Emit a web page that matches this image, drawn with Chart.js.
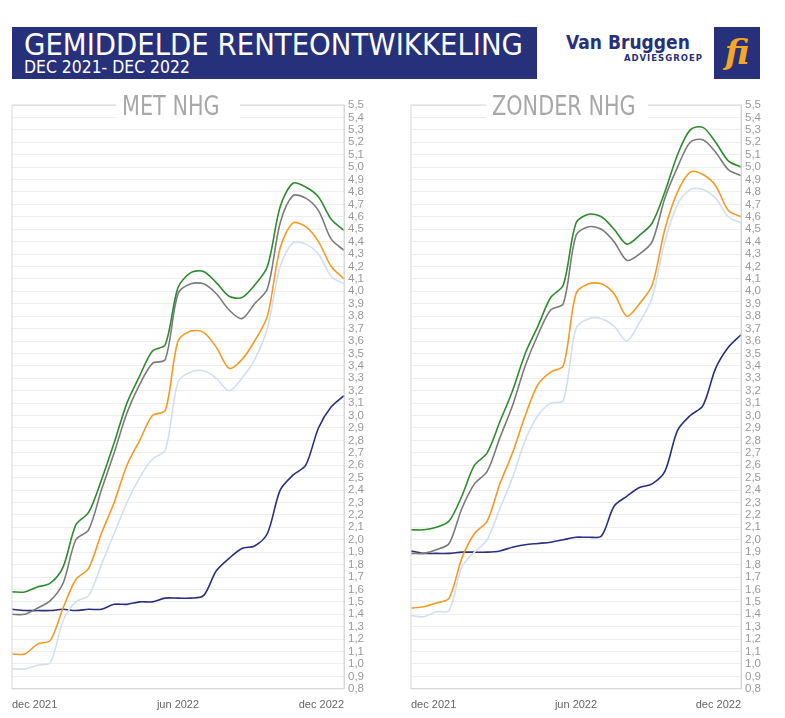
<!DOCTYPE html>
<html>
<head>
<meta charset="utf-8">
<script src="https://cdn.jsdelivr.net/npm/chart.js@4"></script>
<style>
  body { margin: 0; width: 785px; height: 718px; background: #fff; position: relative; overflow: hidden; font-family: "Open Sans", sans-serif; }
  .band { position: absolute; left: 12px; top: 27px; width: 525px; height: 52px; background: #27307a; color: #fff; font-family: "DejaVu Sans", sans-serif; overflow: hidden; }
  .band div { position: absolute; left: 12px; transform-origin: left top; white-space: nowrap; }
  .band .t1 { top: 0px; font-size: 30px; transform: scaleX(0.92); }
  .band .t2 { top: 30px; font-size: 17px; transform: scaleX(0.92); }
  .logo { position: absolute; left: 566px; top: 31px; color: #27307a; font-family: "DejaVu Sans", sans-serif; font-weight: bold; width: 140px; }
  .logo .a { font-size: 19px; transform: scaleX(0.9); transform-origin: left top; white-space: nowrap; }
  .logo .b { font-size: 8.5px; letter-spacing: 1px; text-align: right; margin-top: 0px; padding-right: 3px; }
  .sq { position: absolute; left: 714px; top: 27px; width: 46px; height: 52px; background: #27307a; color: #f5a623; font: italic bold 34px "DejaVu Serif", serif; text-align: center; line-height: 50px; }
  .wrap { position: absolute; top: 92px; width: 380px; height: 624px; }
  .ttl { position: absolute; top: 0; background: #fff; color: #a8a8a8; font-family: "DejaVu Sans", sans-serif; font-size: 26px; padding: 0 6px; line-height: 28px; white-space: nowrap; }
  .ttl span { display: inline-block; transform: scaleX(0.8); transform-origin: left top; }
</style>
</head>
<body>
<div class="band"><div class="t1">GEMIDDELDE RENTEONTWIKKELING</div><div class="t2">DEC 2021- DEC 2022</div></div>
<div class="logo"><div class="a">Van Bruggen</div><div class="b">ADVIESGROEP</div></div>
<div class="sq">fi</div>

<div class="wrap" style="left:0px"><canvas id="c1" width="380" height="622"></canvas><div class="ttl" style="left:116px;width:112px"><span>MET NHG</span></div></div>
<div class="wrap" style="left:397px"><canvas id="c2" width="380" height="622"></canvas><div class="ttl" style="left:89px;width:150px"><span>ZONDER NHG</span></div></div>

<script>
// 27 points, roughly every two weeks dec 2021 - dec 2022
const labels = ['dec 2021','','','','','','','','','','','','','jun 2022','','','','','','','','','','','','','dec 2022'];

// met NHG
const metGreen = [1.58,1.58,1.62,1.65,1.78,2.12,2.22,2.48,2.78,3.1,3.32,3.52,3.57,4.03,4.15,4.16,4.07,3.96,3.95,4.05,4.2,4.68,4.87,4.84,4.76,4.58,4.49];
const metGray = [1.4,1.4,1.45,1.51,1.65,2.0,2.08,2.4,2.7,3.02,3.25,3.42,3.45,3.98,4.06,4.06,3.98,3.85,3.78,3.9,4.02,4.55,4.77,4.75,4.65,4.42,4.33];
const metOrange = [1.08,1.08,1.16,1.19,1.45,1.68,1.77,2.05,2.3,2.6,2.8,3.0,3.04,3.6,3.68,3.67,3.55,3.38,3.45,3.6,3.8,4.35,4.55,4.52,4.4,4.2,4.1];
const metLight = [0.96,0.96,0.99,1.01,1.35,1.5,1.55,1.8,2.05,2.3,2.5,2.65,2.72,3.27,3.35,3.36,3.3,3.2,3.3,3.45,3.7,4.2,4.39,4.38,4.3,4.12,4.06];
const metNavy = [1.44,1.43,1.43,1.43,1.44,1.43,1.44,1.44,1.48,1.48,1.5,1.5,1.53,1.53,1.53,1.55,1.75,1.85,1.93,1.95,2.05,2.4,2.52,2.6,2.9,3.07,3.16];

// zonder NHG
const zonGreen = [2.08,2.08,2.1,2.15,2.35,2.6,2.7,2.95,3.2,3.5,3.72,3.95,4.05,4.55,4.62,4.6,4.5,4.38,4.45,4.55,4.8,5.1,5.3,5.32,5.2,5.05,5.0];
const zonGray = [1.89,1.89,1.92,1.97,2.25,2.45,2.55,2.82,3.08,3.4,3.65,3.85,3.9,4.45,4.52,4.5,4.4,4.25,4.3,4.4,4.75,5.0,5.2,5.22,5.12,4.98,4.93];
const zonOrange = [1.45,1.46,1.49,1.53,1.85,2.05,2.15,2.45,2.7,3.0,3.25,3.35,3.4,3.98,4.06,4.06,3.98,3.8,3.9,4.05,4.5,4.8,4.96,4.94,4.85,4.65,4.6];
const zonLight = [1.39,1.38,1.42,1.43,1.78,1.9,2.0,2.25,2.5,2.8,3.0,3.1,3.12,3.7,3.78,3.78,3.72,3.6,3.75,3.95,4.4,4.7,4.82,4.82,4.75,4.6,4.55];
const zonNavy = [1.91,1.89,1.89,1.89,1.9,1.9,1.9,1.91,1.94,1.96,1.97,1.98,2.0,2.02,2.02,2.03,2.27,2.35,2.42,2.45,2.55,2.88,3.0,3.08,3.38,3.55,3.65];

const colors = ['#2e8b2e', '#7b7b7b', '#f59a23', '#d3def0', '#2b2f7e'];

function makeChart(id, series, padL) {
  new Chart(document.getElementById(id), {
    type: 'line',
    data: {
      labels: labels,
      datasets: series.map((s, i) => ({
        data: s,
        borderColor: colors[i],
        borderWidth: 1.6,
        pointRadius: 0,
        tension: 0.3,
        fill: false
      }))
    },
    options: {
      responsive: false,
      animation: false,
      layout: { padding: { top: 13, left: padL, right: 12, bottom: 0 } },
      plugins: { legend: { display: false }, tooltip: { enabled: false } },
      scales: {
        x: {
          grid: { display: false },
          border: { color: '#d8d8d8' },
          ticks: { autoSkip: false, maxRotation: 0, align: 'inner', padding: 2, color: '#666', font: { size: 11 } }
        },
        y: {
          position: 'right',
          min: 0.8, max: 5.5,
          grid: { color: '#eeeeee', drawTicks: false },
          border: { color: '#d8d8d8' },
          ticks: {
            stepSize: 0.1, autoSkip: false, padding: 4, color: '#999', font: { size: 11.5 },
            callback: v => v.toFixed(1).replace('.', ',')
          }
        }
      }
    },
    plugins: [{
      id: 'box',
      afterDraw(chart) {
        const a = chart.chartArea, c = chart.ctx;
        c.save();
        c.strokeStyle = '#d8d8d8';
        c.lineWidth = 1;
        c.strokeRect(a.left, a.top, a.right - a.left, a.bottom - a.top);
        c.restore();
      }
    }]
  });
}

makeChart('c1', [metGreen, metGray, metOrange, metLight, metNavy], 12);
makeChart('c2', [zonGreen, zonGray, zonOrange, zonLight, zonNavy], 14);
</script>
</body>
</html>
